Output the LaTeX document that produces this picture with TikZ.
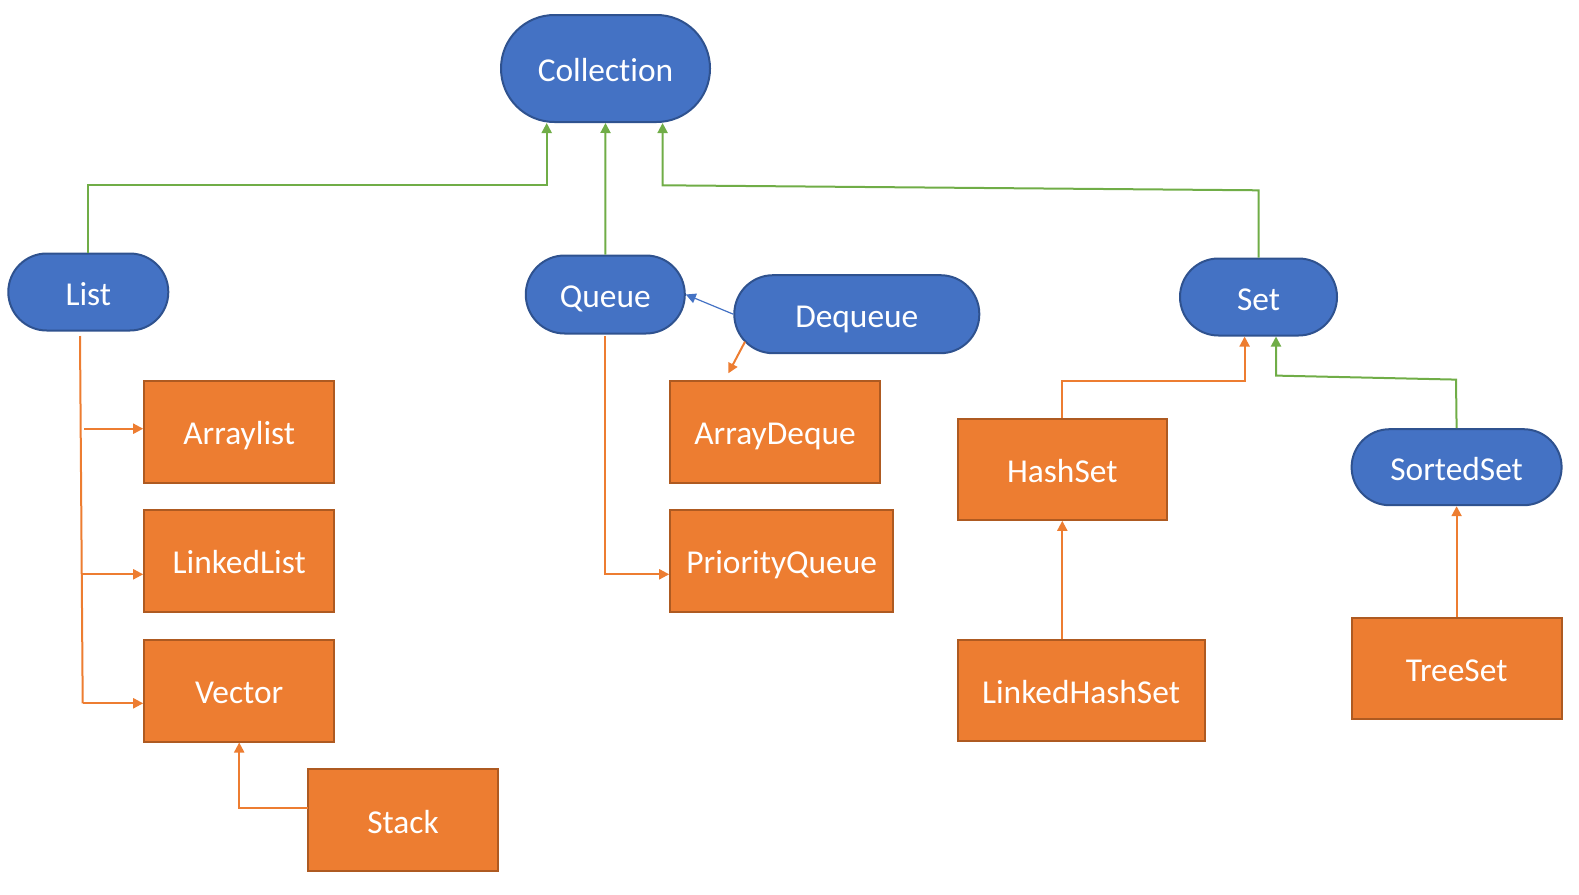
\documentclass[tikz,border=0pt]{standalone}
\usepackage{fontspec}
\setmainfont[Ligatures=NoCommon]{Carlito}
\usetikzlibrary{arrows.meta,calc}
\definecolor{bfill}{HTML}{4472C4}
\definecolor{bdraw}{HTML}{2F528F}
\definecolor{ofill}{HTML}{ED7D31}
\definecolor{odraw}{HTML}{AE5A21}
\definecolor{gline}{HTML}{70AD47}
\tikzset{
  lbl/.style={text=white,font=\fontsize{16.7}{20}\selectfont,inner sep=0pt,line width=1pt,text height=13pt,text depth=0pt},
  pill/.style={lbl,fill=bfill,draw=bdraw,rectangle,rounded corners=#1},
  obox/.style={lbl,fill=ofill,draw=odraw,rectangle},
  gconn/.style={draw=gline,line width=1pt,-{Triangle[length=5pt,width=5pt]}},
  oconn/.style={draw=ofill,line width=1pt,-{Triangle[length=5pt,width=5pt]}},
  oline/.style={draw=ofill,line width=1pt},
  bconn/.style={draw=bfill,line width=0.6pt,-{Triangle[length=5pt,width=5pt]}},
}
\begin{document}
\begin{tikzpicture}[x=0.5pt,y=-0.5pt]
\useasboundingbox (0,0) rectangle (1579,894);
% blue pills
\node[pill=26.7pt,minimum width=104.5pt,minimum height=53.5pt] (Collection) at (605.5,68.5) {Collection};
\node[pill=19.2pt,minimum width=80pt,minimum height=38.5pt] (List) at (88.3,292) {List};
\node[pill=19.4pt,minimum width=79.5pt,minimum height=39pt] (Queue) at (605.3,294.5) {Queue};
\node[pill=19.4pt,minimum width=122.5pt,minimum height=39pt] (Dequeue) at (856.8,314.2) {Dequeue};
\node[pill=19.2pt,minimum width=78.5pt,minimum height=38.5pt] (Set) at (1258.5,297) {Set};
\node[pill=19pt,minimum width=105pt,minimum height=38pt] (SortedSet) at (1456.6,467.2) {SortedSet};
% orange boxes
\node[obox,minimum width=95pt,minimum height=51pt] (Arraylist) at (239.2,431.5) {Arraylist};
\node[obox,minimum width=95pt,minimum height=51pt] (LinkedList) at (239.2,560.8) {LinkedList};
\node[obox,minimum width=95pt,minimum height=51pt] (Vector) at (239.2,690.5) {Vector};
\node[obox,minimum width=95pt,minimum height=51pt] (Stack) at (403,820) {Stack};
\node[obox,minimum width=105pt,minimum height=51pt] (ArrayDeque) at (775,431.5) {ArrayDeque};
\node[obox,minimum width=111.5pt,minimum height=51pt] (PriorityQueue) at (781.7,560.8) {PriorityQueue};
\node[obox,minimum width=104.5pt,minimum height=50.5pt] (HashSet) at (1062.3,469.3) {HashSet};
\node[obox,minimum width=123.5pt,minimum height=50.5pt] (LinkedHashSet) at (1081,690.8) {LinkedHashSet};
\node[obox,minimum width=105pt,minimum height=50.5pt] (TreeSet) at (1456.6,668.6) {TreeSet};
% coordinates
\coordinate (c1) at (546.7,185);
\coordinate (c2) at (662.6,185.3);
\coordinate (c3) at (1258.5,190.3);
\coordinate (l0) at (80,336);
\coordinate (l1) at (82.7,703.3);
\coordinate (a1) at (84,428.7);
\coordinate (a2) at (82,574.3);
\coordinate (s1) at (307.7,808.3);
\coordinate (q0) at (605,336);
\coordinate (q1) at (605,574.3);
\coordinate (d0) at (745,341.7);
\coordinate (d1) at (728.3,373.3);
\coordinate (h1) at (1244.6,380.6);
\coordinate (t1) at (1456,379.6);
\coordinate (t2) at (1276,375.6);
% green connectors
\draw[gconn] (List.north) |- (c1) -- (c1 |- Collection.south);
\draw[gconn] (Queue.north) -- (Collection.south);
\draw[gconn] (Set.north) -- (c3) -- (c2) -- (c2 |- Collection.south);
\draw[gconn] (SortedSet.north) -- (t1) -- (t2) -- (t2 |- Set.south);
% list branches
\draw[oline] (l0) -- (l1);
\draw[oconn] (a1) -- (a1 -| Arraylist.west);
\draw[oconn] (a2) -- (a2 -| LinkedList.west);
\draw[oconn] (l1) -- (l1 -| Vector.west);
\draw[oconn] (s1) -| (Vector.south);
% queue
\draw[oconn] (q0) -- (q1) -- (q1 -| PriorityQueue.west);
\draw[bconn] (Dequeue.west) -- (Queue.east);
\draw[oconn] (d0) -- (d1);
% set
\draw[oconn] (HashSet.north) |- (h1) -- (h1 |- Set.south);
\draw[oconn] (HashSet.south |- LinkedHashSet.north) -- (HashSet.south);
\draw[oconn] (TreeSet.north) -- (SortedSet.south);
\end{tikzpicture}
\end{document}
